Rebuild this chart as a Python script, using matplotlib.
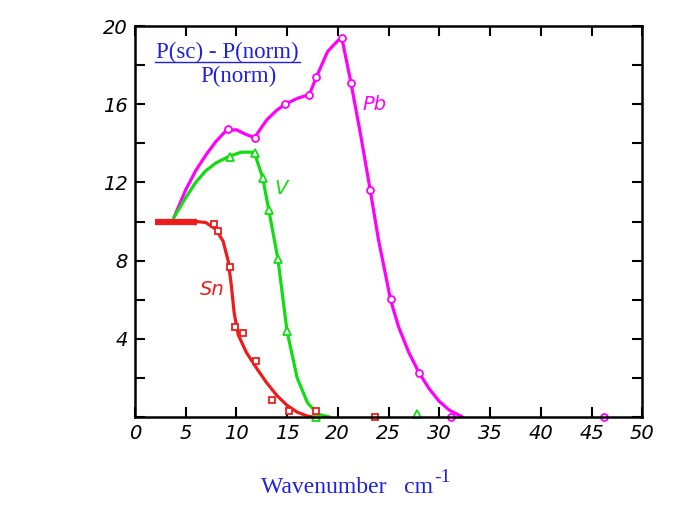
import matplotlib.pyplot as plt

# curves
pb_x = [3.85, 5, 6, 7, 8, 9, 10, 11, 11.8, 13, 14, 14.8, 16, 17.2, 17.9, 19, 20, 20.4,
        21.3, 22.3, 23.2, 24, 24.7, 25.2, 26, 27, 28, 29, 30, 31, 32.3]
pb_y = [10.2, 11.6, 12.6, 13.4, 14.1, 14.65, 14.7, 14.45, 14.3, 15.2, 15.7, 16.0, 16.3, 16.5, 17.4, 18.7, 19.25, 19.4,
        17.1, 14.3, 11.6, 9.1, 7.3, 6.0, 4.6, 3.3, 2.27, 1.45, 0.8, 0.35, 0.0]
v_x = [3.85, 5, 6, 7, 8, 9.35, 10.5, 11.5, 11.8, 12.6, 13.2, 14.1, 15.0, 16, 17, 18, 19.2]
v_y = [10.2, 11.2, 12.0, 12.6, 13.0, 13.35, 13.55, 13.55, 13.5, 12.25, 10.6, 8.1, 4.4, 2.0, 0.75, 0.15, 0.0]
sn_flat_x = [2.0, 6.1]
sn_flat_y = [10.0, 10.0]
sn_x = [6.1, 7, 8, 8.7, 9.2, 9.5, 9.8, 10.2, 11, 12, 13, 14, 15, 16, 17, 17.6]
sn_y = [10.0, 9.95, 9.6, 9.0, 8.0, 6.8, 5.3, 4.2, 3.3, 2.5, 1.75, 1.1, 0.6, 0.25, 0.05, 0.0]

# measured points
pb_px = [9.15, 11.8, 14.8, 17.2, 17.9, 20.4, 21.3, 23.2, 25.2, 28.0, 31.2, 46.2]
pb_py = [14.74, 14.3, 16.0, 16.5, 17.4, 19.4, 17.1, 11.6, 6.03, 2.27, 0.0, 0.0]
v_px = [9.35, 11.8, 12.6, 13.2, 14.1, 15.0, 17.9, 27.8]
v_py = [13.3, 13.5, 12.25, 10.6, 8.1, 4.4, 0.0, 0.17]
sn_px = [7.8, 8.2, 9.35, 9.9, 10.7, 11.9, 13.5, 15.2, 17.9, 23.7]
sn_py = [9.9, 9.5, 7.7, 4.6, 4.3, 2.87, 0.86, 0.31, 0.31, 0.0]

magenta = '#ff00ff'
green = '#11dd11'
red = '#ee1c1c'
blue = '#2020e0'

fig = plt.figure(figsize=(6.84, 5.07), dpi=100)
ax = fig.add_axes([0.197, 0.1775, 0.742, 0.771])

ax.plot(pb_x, pb_y, color=magenta, lw=2.3, solid_capstyle='round', solid_joinstyle='round')
ax.plot(v_x, v_y, color=green, lw=2.3, solid_capstyle='round', solid_joinstyle='round')
ax.plot(sn_x, sn_y, color=red, lw=2.3, solid_capstyle='round', solid_joinstyle='round')
ax.plot(sn_flat_x, sn_flat_y, color=red, lw=4.5, solid_capstyle='butt')

ax.plot(pb_px, pb_py, 'o', ms=5, mfc='white', mec=magenta, mew=1.3, clip_on=False)
ax.plot(v_px, v_py, '^', ms=6, mfc='white', mec=green, mew=1.3, clip_on=False)
ax.plot(sn_px, sn_py, 's', ms=5, mfc='white', mec=red, mew=1.3, clip_on=False)

ax.text(23.6, 16.0, 'Pb', color=magenta, fontsize=14, style='italic', ha='center', va='center')
ax.text(14.4, 11.7, 'V', color=green, fontsize=14, style='italic', ha='center', va='center')
ax.text(7.6, 6.5, 'Sn', color=red, fontsize=14, style='italic', ha='center', va='center')

ax.text(0.183, 0.933, 'P(sc) - P(norm)', transform=ax.transAxes, color=blue,
        fontsize=16.5, family='Liberation Serif', ha='center', va='center')
ax.plot([0.039, 0.325], [0.908, 0.908], transform=ax.transAxes, color=blue, lw=1)
ax.text(0.205, 0.870, 'P(norm)', transform=ax.transAxes, color=blue,
        fontsize=16.5, family='Liberation Serif', ha='center', va='center')

ax.set_xlim(0, 50)
ax.set_ylim(0, 20)
ax.set_xticks(range(0, 51, 5))
ax.set_yticks([4, 8, 12, 16, 20])
ax.set_yticks(range(0, 21, 2), minor=True)
ax.tick_params(which='both', direction='in', top=True, right=True, width=1.5)
ax.tick_params(which='major', length=7, labelsize=14, pad=5)
ax.tick_params(which='minor', length=7)
for lab in ax.get_xticklabels() + ax.get_yticklabels():
    lab.set_fontstyle('italic')
for s in ax.spines.values():
    s.set_linewidth(1.8)

# x axis title, with a hyphen in the superscript as in the original
fig.text(0.633, 0.028, 'Wavenumber   cm', color=blue, fontsize=17,
         family='Liberation Serif', ha='right', va='baseline')
fig.text(0.635, 0.050, '-1', color=blue, fontsize=14,
         family='Liberation Serif', ha='left', va='baseline')

fig.savefig('out.png', dpi=100)
